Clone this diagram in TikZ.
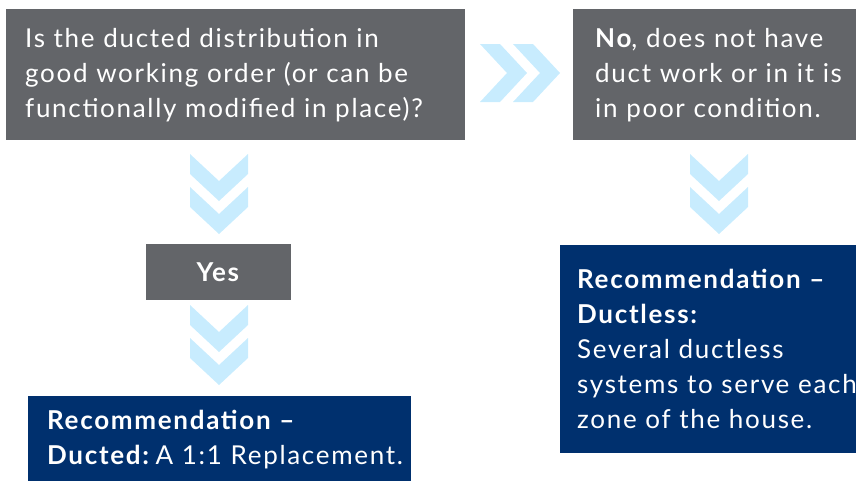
\documentclass[tikz,border=0pt]{standalone}
\usepackage{fontspec}
\setmainfont{Lato}[LetterSpace=6.5]
\usetikzlibrary{positioning}

\definecolor{slate}{HTML}{636569}
\definecolor{navy}{HTML}{00306E}
\definecolor{chevblue}{HTML}{C8ECFE}

\tikzset{
  greybox/.style={fill=slate, text=white, align=left, anchor=north west,
    inner xsep=19pt, inner ysep=0pt, font=\fontsize{26}{35}\selectfont},
  bluebox/.style={greybox, fill=navy},
  pics/twochev/.style={code={
    \fill[chevblue] (-29,0) -- (0,27) -- (29,0) -- (29,20) -- (0,47) -- (-29,20) -- cycle;
    \fill[chevblue] (-29,33) -- (0,60) -- (29,33) -- (29,53) -- (0,80) -- (-29,53) -- cycle;
  }}
}

\begin{document}
\begin{tikzpicture}[x=1pt,y=-1pt]
        \useasboundingbox (0,0) rectangle (856,480);
        % question and answers
        \node[greybox, minimum width=459pt, minimum height=131pt, text width=421pt] (q) at (6,9)
                {Is the ducted distribution in\\ good working order (or can be\\ functionally modified in place)?};
        \node[greybox, inner xsep=22pt, minimum width=306pt, minimum height=131pt, text width=262pt] (no) at (573,9)
                {\textbf{No}, does not have\\ duct work or in it is\\ in poor condition.};
        \node[greybox, align=center, inner xsep=0pt, minimum width=145pt, minimum height=56pt] (yes) at (146,244)
                {\textbf{Yes}};
        % recommendations
        \node[bluebox, minimum width=383pt, minimum height=86pt, text width=345pt] (ducted) at (28,396)
                {\mbox{\textbf{Recommendation --}}\\ \mbox{\textbf{Ducted:}\hspace{5pt}A 1:1 Replacement.}};
        \node[bluebox, inner xsep=17pt, minimum width=334pt, minimum height=208pt, text width=300pt] (ductless) at (560,245)
                {\textbf{Recommendation --}\\ \textbf{Ductless:}\\ Several ductless\\ \mbox{systems to serve each}\\ zone of the house.};
        % chevrons
        \pic[rotate=90] at (480,73) {twochev};
        \pic at (219,154) {twochev};
        \pic at (219,305) {twochev};
        \pic at (719,154) {twochev};
\end{tikzpicture}
\end{document}
